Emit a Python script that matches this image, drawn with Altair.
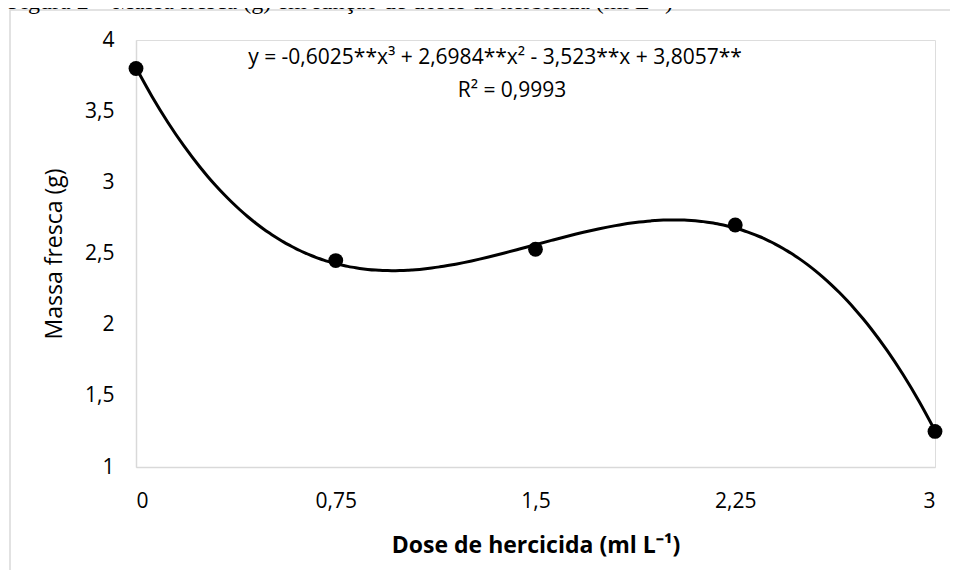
import altair as alt
import pandas as pd

# ---- data ----
doses = [0, 0.75, 1.5, 2.25, 3]
massa = [3.80, 2.45, 2.53, 2.70, 1.25]
x_ticks = [0, 0.75, 1.5, 2.25, 3]
y_ticks = [1, 1.5, 2, 2.5, 3, 3.5, 4]
title_text = ["Figura 2 – Massa fresca (g) em função de doses de herbicida (ml L⁻¹)"]
eq_line1 = ["y = -0,6025**x³ + 2,6984**x² - 3,523**x + 3,8057**"]
eq_line2 = ["R² = 0,9993"]
x_title = "Dose de hercicida (ml L⁻¹)"
y_title = "Massa fresca (g)"

df = pd.DataFrame({"dose": doses, "massa": massa})
FONT = "Open Sans"
GRAY = "#d9d9d9"
comma = "replace(format(datum.value, ''), '.', ',')"

xs = alt.Scale(domain=[0, 3], nice=False, zero=False)
ys = alt.Scale(domain=[1, 4], nice=False, zero=False)

x_enc = alt.X(
    "dose:Q", scale=xs,
    axis=alt.Axis(values=x_ticks, title=x_title, labelExpr=comma, grid=False,
                  ticks=False, domainColor=GRAY, domainWidth=1.5,
                  labelFont=FONT, labelFontSize=21, labelColor="#000",
                  labelPadding=23, titleFont=FONT, titleFontSize=23,
                  titleFontWeight="bold", titleColor="#000", titlePadding=23),
)
y_enc = alt.Y(
    "massa:Q", scale=ys,
    axis=alt.Axis(values=y_ticks, title=y_title, labelExpr=comma, grid=False,
                  ticks=False, domainColor=GRAY, domainWidth=1.5,
                  labelFont=FONT, labelFontSize=21, labelColor="#000",
                  labelPadding=22, titleFont=FONT, titleFontSize=23,
                  titleFontWeight="normal", titleColor="#000", titlePadding=18),
)

base = alt.Chart(df)

border = alt.Chart(pd.DataFrame({"a": [0]})).mark_rect(
    fill=None, stroke=GRAY, strokeWidth=1.5
).encode(x=alt.value(-126), x2=alt.value(900), y=alt.value(-30), y2=alt.value(700))

curve = base.transform_regression(
    "dose", "massa", method="poly", order=3, extent=[0, 3]
).mark_line(color="#000", strokeWidth=3, interpolate="monotone").encode(x=x_enc, y=y_enc)

points = base.mark_circle(color="#000", opacity=1, size=220).encode(x=x_enc, y=y_enc)

t_title = alt.Chart(pd.DataFrame({"t": title_text})).mark_text(
    font="Liberation Serif", fontSize=24, align="left", baseline="alphabetic", color="#000"
).encode(text="t:N", x=alt.value(-128), y=alt.value(-31))

t_eq1 = alt.Chart(pd.DataFrame({"t": eq_line1})).mark_text(
    font=FONT, fontSize=21, align="center", baseline="alphabetic", color="#000"
).encode(text="t:N", x=alt.value(359), y=alt.value(24))

t_eq2 = alt.Chart(pd.DataFrame({"t": eq_line2})).mark_text(
    font=FONT, fontSize=21, align="center", baseline="alphabetic", color="#000"
).encode(text="t:N", x=alt.value(376), y=alt.value(57))

chart = alt.layer(border, t_title, curve, points, t_eq1, t_eq2).properties(
    width=799, height=427,
    autosize=alt.AutoSizeParams(type="none"),
    padding={"left": 128, "top": 32, "right": 15, "bottom": 103},
).configure_view(stroke=None).configure(background="white")

chart.save("out.html", embed_options={"renderer": "svg", "actions": False})
